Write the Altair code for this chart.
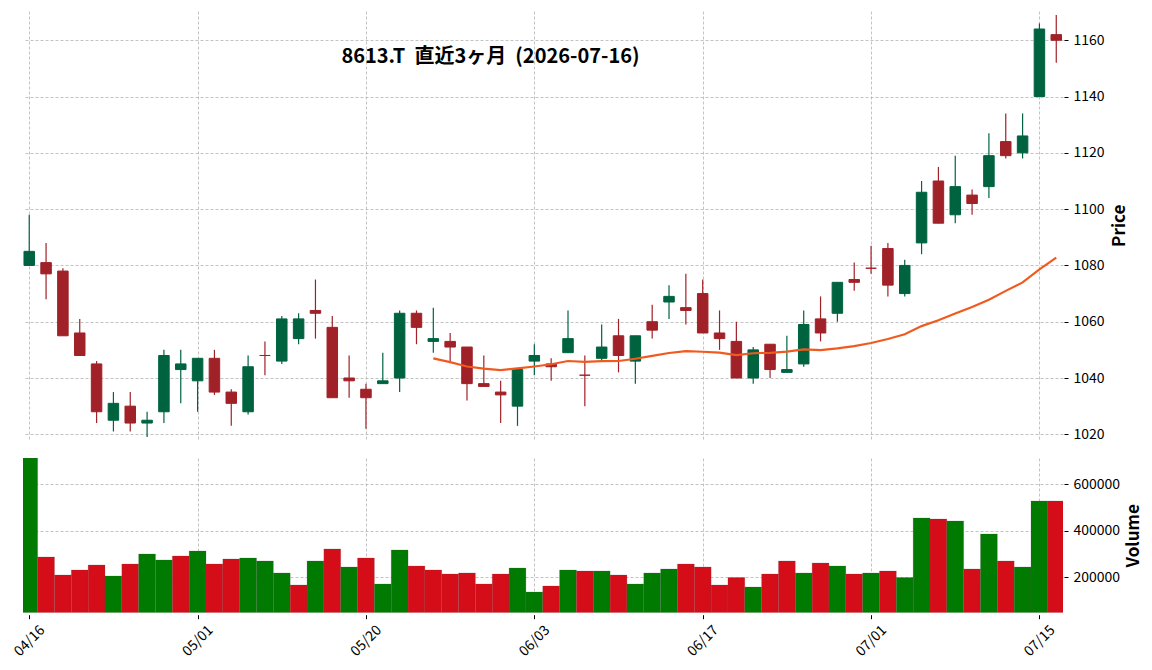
import altair as alt
import pandas as pd

# ---------------- data ----------------
dates = ["04/16", "04/17", "04/20", "04/21", "04/22", "04/23", "04/24", "04/27", "04/28", "04/30",
         "05/01", "05/07", "05/08", "05/11", "05/12", "05/13", "05/14", "05/15", "05/18", "05/19",
         "05/20", "05/21", "05/22", "05/25", "05/26", "05/27", "05/28", "05/29", "06/01", "06/02",
         "06/03", "06/04", "06/05", "06/08", "06/09", "06/10", "06/11", "06/12", "06/15", "06/16",
         "06/17", "06/18", "06/19", "06/22", "06/23", "06/24", "06/25", "06/26", "06/29", "06/30",
         "07/01", "07/02", "07/03", "07/06", "07/07", "07/08", "07/09", "07/10", "07/13", "07/14",
         "07/15", "07/16"]

opens = [1080, 1081, 1078, 1056, 1045, 1025, 1030, 1024, 1028, 1043,
         1039, 1047, 1035, 1028, 1048, 1046, 1054, 1064, 1058, 1040,
         1036, 1038, 1040, 1063, 1053, 1053, 1051, 1038, 1035, 1030,
         1046, 1045, 1049, 1041, 1047, 1055, 1046, 1060, 1067, 1065,
         1070, 1056, 1053, 1040, 1052, 1042, 1045, 1061, 1063, 1075,
         1079, 1086, 1070, 1088, 1110, 1098, 1105, 1108, 1124, 1120,
         1140, 1162]
highs = [1098, 1088, 1079, 1061, 1046, 1035, 1035, 1028, 1050, 1050,
         1047, 1050, 1036, 1048, 1053, 1062, 1063, 1075, 1062, 1048,
         1038, 1049, 1064, 1064, 1065, 1056, 1051, 1048, 1039, 1043,
         1052, 1047, 1064, 1048, 1059, 1061, 1055, 1066, 1073, 1077,
         1075, 1064, 1060, 1051, 1052, 1055, 1064, 1069, 1074, 1081,
         1087, 1088, 1082, 1110, 1115, 1119, 1107, 1127, 1134, 1134,
         1166, 1169]
lows = [1080, 1068, 1055, 1048, 1024, 1021, 1021, 1019, 1024, 1031,
        1028, 1034, 1023, 1027, 1041, 1045, 1052, 1054, 1033, 1033,
        1022, 1038, 1035, 1052, 1049, 1046, 1032, 1037, 1024, 1023,
        1041, 1039, 1049, 1030, 1046, 1042, 1038, 1054, 1061, 1059,
        1056, 1050, 1040, 1038, 1040, 1042, 1044, 1053, 1060, 1071,
        1077, 1069, 1069, 1084, 1095, 1095, 1098, 1104, 1118, 1118,
        1140, 1152]
closes = [1085, 1077, 1055, 1048, 1028, 1031, 1024, 1025, 1048, 1045,
          1047, 1035, 1031, 1044, 1048, 1061, 1061, 1063, 1033, 1039,
          1033, 1039, 1063, 1058, 1054, 1051, 1038, 1037, 1034, 1043,
          1048, 1044, 1054, 1041, 1051, 1048, 1055, 1057, 1069, 1064,
          1056, 1054, 1040, 1050, 1043, 1043, 1059, 1056, 1074, 1074,
          1079, 1073, 1080, 1106, 1095, 1108, 1102, 1119, 1119, 1126,
          1164, 1160]
volumes = [713000, 287500, 210000, 231500, 253000, 205700, 257300, 300400, 274600, 291800,
           313300, 257300, 278900, 283200, 270300, 218600, 167000, 270300, 321900, 244400,
           283200, 171300, 317600, 248700, 231500, 214300, 218600, 171300, 214300, 240100,
           136900, 162700, 231500, 227200, 227200, 210000, 171300, 218600, 235800, 257300,
           244400, 167000, 198600, 158400, 214300, 270300, 218600, 261600, 248700, 214300,
           218600, 227200, 198600, 455200, 450900, 442300, 235800, 386400, 270300, 244400,
           528300, 528300]

tick_idx = [0, 10, 20, 30, 40, 50, 60]
price_ticks = [1020, 1040, 1060, 1080, 1100, 1120, 1140, 1160]
volume_ticks = [200000, 400000, 600000]
title_text = "8613.T\u00a0\u00a0直近3ヶ月\u00a0\u00a0(2026-07-16)"

# ---------------- table ----------------
n = len(dates)
df = pd.DataFrame({
    "idx": list(range(n)), "date": dates, "open": opens, "high": highs,
    "low": lows, "close": closes, "volume": volumes,
})
df["candle"] = ["up" if o < c else "down" for o, c in zip(opens, closes)]
df["vdir"] = [df["candle"][0]] + ["up" if p < c else "down" for p, c in zip(closes[:-1], closes[1:])]

FONT = "Noto Sans CJK JP"
W = 1040
H_PRICE = 428.5
H_VOL = 154.7
VOL_MIN = 47700

xs = alt.Scale(domain=[-0.37, 61.4], nice=False, zero=False, padding=0)
ys_price = alt.Scale(domain=[1018.15, 1170.4], nice=False, zero=False, padding=0)
ys_vol = alt.Scale(domain=[VOL_MIN, 713100], nice=False, zero=False, padding=0)
cscale = alt.Scale(domain=["up", "down"], range=["#006340", "#A02128"])
vscale = alt.Scale(domain=["up", "down"], range=["#007a00", "#d50d18"])

label_js = "[" + ",".join("'" + d + "'" for d in dates) + "][datum.value]"

x_grid_axis = alt.Axis(values=tick_idx, labels=False, ticks=False, domain=False,
                       grid=True, title=None, minExtent=0, maxExtent=0)
x_vol_axis = alt.Axis(values=tick_idx, labelExpr=label_js, labelAngle=-45,
                      labelAlign="center", labelBaseline="middle", labelPadding=22,
                      labelFont=FONT, labelFontSize=14, labelColor="black",
                      tickSize=4, tickColor="black", tickWidth=1, offset=2,
                      domain=False, grid=True, title=None)
price_axis = alt.Axis(orient="right", values=price_ticks, format="d", domain=False,
                      tickSize=4, tickColor="black", tickWidth=1, offset=1,
                      labelFont=FONT, labelFontSize=14, labelColor="black", labelPadding=5,
                      title="Price", titleFont=FONT, titleFontSize=17, titleFontWeight="bold",
                      titleColor="black", titleAngle=270, titleBaseline="top", titlePadding=7,
                      grid=True)
vol_axis = alt.Axis(orient="right", values=volume_ticks, format="d", domain=False,
                    tickSize=4, tickColor="black", tickWidth=1, offset=1,
                    labelFont=FONT, labelFontSize=14, labelColor="black", labelPadding=5,
                    title="Volume", titleFont=FONT, titleFontSize=17, titleFontWeight="bold",
                    titleColor="black", titleAngle=270, titleBaseline="top", titlePadding=6,
                    grid=True)

base = alt.Chart(df)

wicks = base.mark_rule(strokeWidth=1.2).encode(
    x=alt.X("idx:Q", scale=xs, axis=x_grid_axis),
    y=alt.Y("low:Q", scale=ys_price, axis=price_axis),
    y2="high:Q",
    color=alt.Color("candle:N", scale=cscale, legend=None),
)
bodies = base.mark_bar(size=10.5, strokeWidth=1).encode(
    x=alt.X("idx:Q", scale=xs, axis=x_grid_axis),
    y=alt.Y("open:Q", scale=ys_price, axis=price_axis),
    y2="close:Q",
    color=alt.Color("candle:N", scale=cscale, legend=None),
    stroke=alt.Stroke("candle:N", scale=cscale, legend=None),
)
ma = base.transform_window(
    ma="mean(close)", cnt="count()", frame=[-24, 0], sort=[alt.SortField("idx")]
).transform_filter("datum.cnt == 25").mark_line(color="#f05a1e", strokeWidth=2.2).encode(
    x=alt.X("idx:Q", scale=xs, axis=x_grid_axis),
    y=alt.Y("ma:Q", scale=ys_price, axis=price_axis),
)
title_mark = alt.Chart(pd.DataFrame({"t": [title_text]})).mark_text(
    font=FONT, fontSize=20, fontWeight="bold", color="black",
    align="center", baseline="alphabetic",
).encode(x=alt.value(467.5), y=alt.value(52.3), text="t:N")

price = alt.layer(wicks, bodies, ma, title_mark).properties(width=W, height=H_PRICE)

vol = base.transform_calculate(
    x0="datum.idx - 0.5", x1="datum.idx + 0.5"
).mark_bar(clip=True, strokeWidth=0.4, strokeOpacity=0.5).encode(
    x=alt.X("x0:Q", scale=xs, axis=x_vol_axis),
    x2="x1:Q",
    y=alt.Y("volume:Q", scale=ys_vol, axis=vol_axis),
    y2=alt.datum(VOL_MIN),
    color=alt.Color("vdir:N", scale=vscale, legend=None),
    stroke=alt.value("#555555"),
).properties(width=W, height=H_VOL)

chart = alt.vconcat(price, vol, spacing=16).resolve_scale(
    color="independent", stroke="independent"
).properties(
    padding={"left": 11, "top": 11, "right": 8, "bottom": 0},
    background="white",
).configure_view(stroke=None).configure_axis(
    gridColor="#b4b4b4", gridDash=[3, 2], gridWidth=0.8,
)

chart.save("out.html", embed_options={"renderer": "svg", "actions": False})
